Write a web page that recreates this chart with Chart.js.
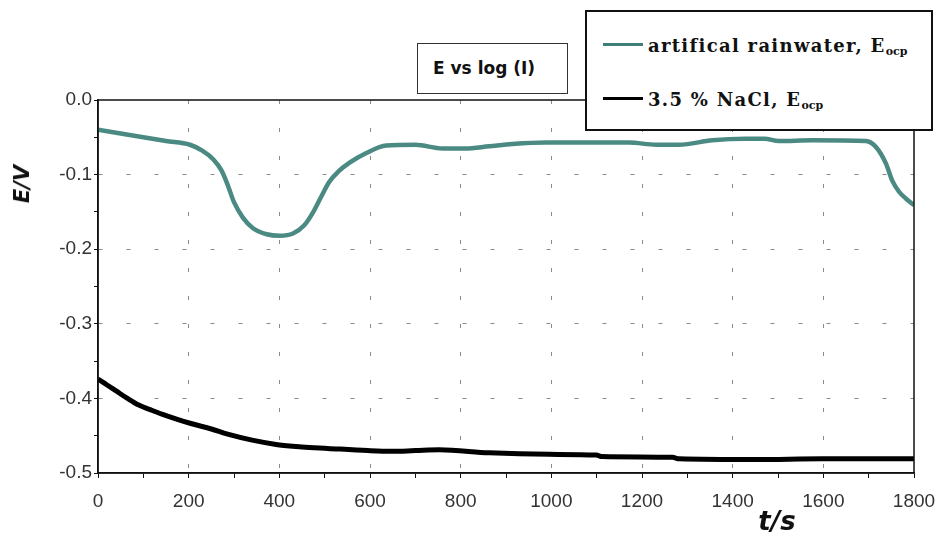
<!DOCTYPE html>
<html>
<head>
<meta charset="utf-8">
<script src="https://cdn.jsdelivr.net/npm/chart.js@4.4.0/dist/chart.umd.min.js"></script>
<style>
  html, body { margin: 0; padding: 0; background: #fff; }
  #wrap { position: relative; width: 938px; height: 547px; overflow: hidden; }
  canvas { position: absolute; left: 0; top: 0; }
  .legend { position: absolute; left: 585px; top: 10px; width: 348px; height: 121px; box-sizing: border-box;
            border: 2px solid #111; background: #fff; font-family: "DejaVu Serif", serif; font-weight: bold;
            font-size: 18px; letter-spacing: 1.3px; color: #111; }
  .item { position: absolute; left: 16px; white-space: nowrap; line-height: 20px; }
  .item .sw { display: inline-block; width: 40px; height: 3px; vertical-align: middle; margin-right: 5px; position: relative; top: -3px; }
  .item sub { font-size: 11px; letter-spacing: 0; vertical-align: -3px; }
  .title { position: absolute; left: 417px; top: 43px; width: 151px; height: 51px; box-sizing: border-box;
           border: 1.5px solid #333; background: #fff; font-family: "DejaVu Sans", sans-serif; font-weight: bold;
           font-size: 17px; color: #111; text-align: left; padding-left: 15px; line-height: 48px; }
  .ytitle { position: absolute; left: 22px; top: 184px; transform: translate(-50%, -50%) rotate(-90deg);
            font-family: "DejaVu Sans", sans-serif; font-style: italic; font-weight: bold; font-size: 21px; color: #111; white-space: nowrap; }
  .xtitle { position: absolute; left: 777px; top: 521px; transform: translate(-50%, -50%);
            font-family: "DejaVu Sans", sans-serif; font-style: italic; font-weight: bold; font-size: 26px; color: #111; white-space: nowrap; }
</style>
</head>
<body>
<div id="wrap">
  <canvas id="c" width="938" height="547"></canvas>
  <div class="title">E vs log (I)</div>
  <div class="legend">
    <div class="item" style="top:24px"><span class="sw" style="background:#3f7f78"></span>artifical rainwater, E<sub>ocp</sub></div>
    <div class="item" style="top:78px"><span class="sw" style="background:#000"></span>3.5 % NaCl, E<sub>ocp</sub></div>
  </div>
  <div class="ytitle">E/V</div>
  <div class="xtitle">t/s</div>
</div>
<script>
// ---- data ----
const seriesNames = ["artifical rainwater, Eocp", "3.5 % NaCl, Eocp"];

const rainT = [0, 50, 100, 150, 203, 230, 255, 272, 285, 300, 320, 342, 372, 401, 430, 455, 475, 492, 510, 530, 555, 592, 636, 700, 760, 810, 863, 914, 988, 1062, 1172, 1231, 1282, 1355, 1429, 1470, 1502, 1575, 1694, 1716, 1738, 1752, 1767, 1782, 1800];
const rainE = [-0.040, -0.045, -0.050, -0.055, -0.060, -0.068, -0.080, -0.094, -0.112, -0.137, -0.158, -0.172, -0.180, -0.182, -0.179, -0.168, -0.150, -0.130, -0.110, -0.096, -0.084, -0.071, -0.061, -0.060, -0.065, -0.065, -0.062, -0.059, -0.057, -0.057, -0.057, -0.060, -0.060, -0.054, -0.052, -0.052, -0.055, -0.054, -0.055, -0.063, -0.085, -0.108, -0.123, -0.132, -0.141];

const naclT = [0, 20, 40, 65, 90, 115, 141, 175, 207, 250, 286, 340, 396, 450, 507, 595, 648, 700, 753, 863, 995, 1099, 1112, 1267, 1282, 1451, 1597, 1700, 1800];
const naclE = [-0.374, -0.382, -0.390, -0.400, -0.409, -0.415, -0.421, -0.428, -0.434, -0.441, -0.448, -0.456, -0.462, -0.465, -0.467, -0.470, -0.471, -0.470, -0.469, -0.473, -0.475, -0.476, -0.478, -0.479, -0.481, -0.482, -0.481, -0.481, -0.481];

const xTicks = { min: 0, max: 1800, major: 200, minor: 100 };
const yTicks = { min: -0.5, max: 0, major: 0.1, minor: 0.05 };

const toPts = (ts, es) => ts.map((t, i) => ({ x: t, y: es[i] }));

const frame = {
  id: 'frame',
  afterDraw(chart) {
    const { ctx, chartArea: a } = chart;
    ctx.save();
    ctx.setLineDash([]);
    ctx.strokeStyle = '#111';
    ctx.lineWidth = 1.5;
    ctx.strokeRect(a.left, a.top, a.right - a.left, a.bottom - a.top);
    ctx.restore();
  }
};

const isMajor = (v, step) => Math.abs(v / step - Math.round(v / step)) < 1e-6;

new Chart(document.getElementById('c'), {
  type: 'line',
  data: {
    datasets: [
      { label: seriesNames[0], data: toPts(rainT, rainE), borderColor: '#4b8a82', borderWidth: 4.5, pointRadius: 0, cubicInterpolationMode: 'monotone', fill: false },
      { label: seriesNames[1], data: toPts(naclT, naclE), borderColor: '#000', borderWidth: 5, pointRadius: 0, cubicInterpolationMode: 'monotone', fill: false }
    ]
  },
  options: {
    responsive: false,
    animation: false,
    layout: { padding: { top: 100, right: 24, left: 0, bottom: 0 } },
    plugins: { legend: { display: false }, tooltip: { enabled: false }, title: { display: false } },
    scales: {
      x: {
        type: 'linear', min: xTicks.min, max: xTicks.max,
        afterFit(s) { s.height = 74; s.paddingRight = 0; s.paddingLeft = 0; },
        border: { color: '#111', width: 1.5, dash: [4, 24] },
        grid: {
          color: c => isMajor(c.tick.value, xTicks.major) && c.tick.value !== xTicks.min && c.tick.value !== xTicks.max ? '#8a8a8a' : 'rgba(0,0,0,0)',
          lineWidth: 1, tickColor: '#111', tickLength: 5, tickBorderDash: [], drawOnChartArea: true
        },
        ticks: {
          stepSize: xTicks.minor, autoSkip: false, maxRotation: 0, padding: 12,
          color: '#333', font: { family: '"Liberation Sans", Arial, sans-serif', size: 19 },
          callback: v => isMajor(v, xTicks.major) ? String(v) : ''
        }
      },
      y: {
        type: 'linear', min: yTicks.min, max: yTicks.max,
        afterFit(s) { s.width = 98; s.paddingTop = 0; s.paddingBottom = 0; },
        border: { color: '#111', width: 1.5, dash: [4, 24] },
        grid: {
          color: c => isMajor(c.tick.value, yTicks.major) && c.tick.value > yTicks.min + 1e-9 && c.tick.value < yTicks.max - 1e-9 ? '#8a8a8a' : 'rgba(0,0,0,0)',
          lineWidth: 1, tickColor: '#111', tickLength: 4, tickBorderDash: []
        },
        ticks: {
          stepSize: yTicks.minor, autoSkip: false, padding: 2,
          color: '#333', font: { family: '"Liberation Sans", Arial, sans-serif', size: 19 },
          callback: v => isMajor(v, yTicks.major) ? (Math.abs(v) < 1e-9 ? '0.0' : v.toFixed(1)) : ''
        }
      }
    }
  },
  plugins: [frame]
});
</script>
</body>
</html>
